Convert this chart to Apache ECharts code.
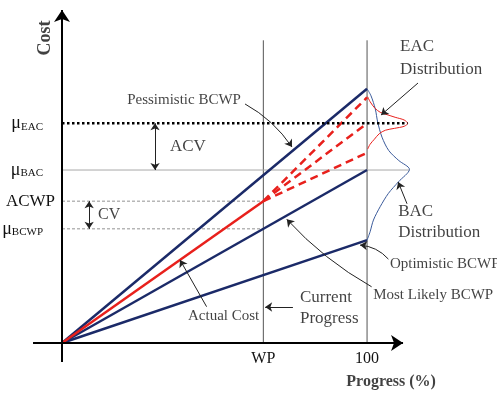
<!DOCTYPE html>
<html><head><meta charset="utf-8">
<script src="https://cdn.jsdelivr.net/npm/echarts@6/dist/echarts.min.js"></script>
<style>html,body{margin:0;padding:0;background:#fff}#c{width:497px;height:395px}</style>
</head><body><div id="c"></div>
<script>
// Progress (%) tick positions and labels
const progressTickLabels = ['WP', '100'];
const progressTickValues = [66, 100];
// Cost levels on the vertical axis
const costTickLabels = ['EAC', 'BAC', 'ACWP', 'BCWP'];
const costTickValues = [127, 100, 82, 66];
// BCWP scenario lines (cost at 100 % progress)
const scenarioNames = ['Pessimistic BCWP', 'Most Likely BCWP', 'Optimistic BCWP'];
const scenarioEndCost = [147, 100, 59.5];
// Actual cost up to current progress (WP)
const actualCostPoints = [[0, 0], [66, 82]];
// Forecast (dashed) end costs at 100 %
const forecastEndCost = [142, 127, 110];
// EAC distribution curve (x = progress %, y = cost)
const eacDistribution = [[100.2,142.4],[101.0,139.5],[102.6,135.7],[104.3,133.4],[105.9,132.4],[109.2,130.5],[112.2,128.9],[113.3,127],[112.2,125.3],[109.0,124.1],[106.0,123.0],[104.0,121.0],[102.4,117.8],[101.0,114.9],[100.2,112.1]];
// BAC distribution curve
const bacDistribution = [[100,147],[101.3,142.9],[102.7,135.3],[103.5,127.6],[104.9,119.0],[107.1,111.3],[110.4,105.5],[113.9,100.4],[110.3,93.2],[107.0,86.5],[104.3,78.8],[102.1,71.1],[101.0,64.3],[100,59.5]];

const FONT = 'Liberation Serif';
const NAVY = '#1b2a68';
const RED = '#e8201c';
const WP = progressTickValues[0], FULL = progressTickValues[1];
const EAC = costTickValues[0], BAC = costTickValues[1], ACWP = costTickValues[2], BCWP = costTickValues[3];

function line(data, color, width, type, z) {
  return {type:'line', data, symbol:'none', silent:true, clip:false, z: z || 2, animation:false,
    lineStyle:{color, width, type: type || 'solid'}};
}
function curve(data, color, width) {
  return {type:'line', data, symbol:'none', smooth:0.3, clip:false, silent:true, animation:false,
    lineStyle:{color, width}};
}
function arrow(coords, curveness, both) {
  return {coords, lineStyle:{curveness: curveness || 0}, symbol: both ? ['arrow','arrow'] : ['none','arrow']};
}
function txt(x, y, text, opts) {
  return {value:[x, y], label:Object.assign({show:true, formatter:text, position:[0,0], align:'left',
    verticalAlign:'middle', fontFamily:FONT, fontSize:15, color:'#111'}, opts || {})};
}

const series = [];
// axes drawn as arrows (extend slightly past the origin)
series.push({type:'lines', coordinateSystem:'cartesian2d', silent:true, animation:false, z:5, clip:false,
  symbol:['none','arrow'], symbolSize:12, lineStyle:{color:'#000', width:2, opacity:1},
  data:[{coords:[[-9.5,0],[111.8,0]]},{coords:[[0,-11],[0,192.5]]}]});
// vertical guide lines at WP and 100
progressTickValues.forEach(v => series.push(line([[v,0],[v,175]], '#555', 1, 'solid', 1)));
// horizontal guides
series.push(line([[0,BAC],[114,BAC]], '#a8a8a8', 1, 'solid', 1));
series.push(line([[0,ACWP],[WP,ACWP]], '#777', 0.8, [3,2], 1));
series.push(line([[0,BCWP],[WP,BCWP]], '#777', 0.8, [3,2], 1));
series.push(line([[0,EAC],[113.3,EAC]], '#000', 2.5, [2.5,2.5], 4));
// BCWP scenario lines
scenarioEndCost.forEach(v => series.push(line([[0,0],[FULL,v]], NAVY, 2.5, 'solid', 3)));
// actual cost
series.push(line(actualCostPoints, RED, 2.5, 'solid', 3));
// forecasts
forecastEndCost.forEach(v => series.push(line([actualCostPoints[1],[FULL,v]], RED, 2.5, [8,5], 3)));
// distributions
series.push(curve(bacDistribution, '#3a5a9a', 1));
series.push(curve(eacDistribution, RED, 1));
// arrows / leaders
series.push({type:'lines', coordinateSystem:'cartesian2d', silent:true, animation:false, z:5, clip:false,
  symbolSize:7, lineStyle:{color:'#222', width:1, opacity:1},
  data:[
    arrow([[30.5,EAC],[30.5,BAC]], 0, true),
    arrow([[8.9,ACWP],[8.9,BCWP]], 0, true),
    arrow([[60,138.2],[75.4,113.3]], 0.12),
    arrow([[116.7,150.3],[104.6,131.8]], 0),
    arrow([[113.1,80.5],[110.2,93.1]], 0),
    arrow([[107,48.5],[97.7,56.6]], -0.2),
    arrow([[101.5,32.5],[73.7,71.5]], 0.08),
    arrow([[47.4,21],[38.7,48]], 0),
    arrow([[75.7,20.8],[66.6,20.8]], 0)
  ]});
// text annotations
series.push({type:'scatter', symbolSize:0, silent:true, animation:false, clip:false, z:6,
  data:[
    txt(40, 140.5, scenarioNames[0], {align:'center'}),
    txt(102, 27.7, scenarioNames[1]),
    txt(107.5, 45.7, scenarioNames[2]),
    txt(110.8, 164.5, 'EAC\nDistribution', {fontSize:17, lineHeight:23}),
    txt(110.2, 69.7, 'BAC\nDistribution', {fontSize:17, lineHeight:21}),
    txt(41.3, 15.6, 'Actual Cost'),
    txt(78, 20.5, 'Current\nProgress', {fontSize:17, lineHeight:21}),
    txt(35.4, 113.3, 'ACV', {fontSize:17}),
    txt(11.8, 74, 'CV', {fontSize:16}),
    txt(-5.6, 176.3, 'Cost', {fontSize:18, fontWeight:'bold', rotate:90, align:'center'}),
    txt(107.9, -22.5, 'Progress (%)', {fontSize:16, fontWeight:'bold', align:'center'})
  ]});

const chart = echarts.init(document.getElementById('c'), null, {renderer:'canvas'});
chart.setOption({
  animation:false,
  grid:{left:62, right:0, top:0, bottom:52, containLabel:false, outerBoundsMode:'none'},
  xAxis:{type:'value', min:0, max:142.6, splitLine:{show:false}, axisLine:{show:false},
    axisTick:{show:false},
    axisLabel:{customValues:progressTickValues, margin:8, fontFamily:FONT, fontSize:16, color:'#111',
      formatter: v => progressTickLabels[progressTickValues.indexOf(v)] || ''}},
  yAxis:{type:'value', min:0, max:198.3, splitLine:{show:false}, axisLine:{show:false},
    axisTick:{show:false},
    axisLabel:{customValues:costTickValues, margin:7, fontFamily:FONT, color:'#111',
      formatter: v => {
        const name = costTickLabels[costTickValues.indexOf(v)] || '';
        return name === 'ACWP' ? '{big|ACWP}' : '{mu|μ}{sub|' + name + '}';
      },
      rich:{
        big:{fontFamily:FONT, fontSize:17, color:'#111'},
        mu:{fontFamily:FONT, fontSize:18, color:'#111', verticalAlign:'bottom'},
        sub:{fontFamily:FONT, fontSize:11, color:'#111', verticalAlign:'bottom', padding:[0,12,0,0]}
      }}},
  series
});
</script></body></html>
